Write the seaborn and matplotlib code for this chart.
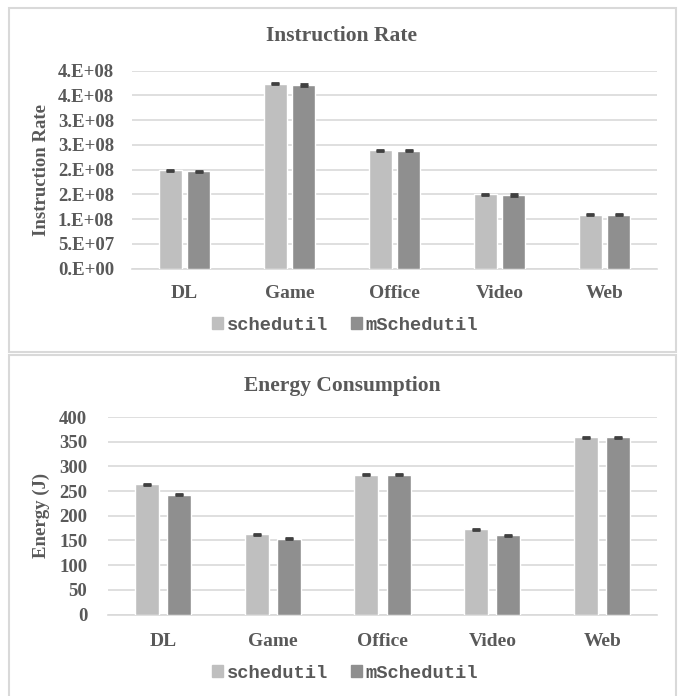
import numpy as np
import pandas as pd
import matplotlib
matplotlib.use("Agg")
import matplotlib.pyplot as plt
from matplotlib.patches import Rectangle, Patch
import seaborn as sns

# workloads and governors
categories = ["DL", "Game", "Office", "Video", "Web"]
governors = ["schedutil", "mSchedutil"]

# instruction rate (instructions / s)
ir_schedutil = [1.99e8, 3.74e8, 2.39e8, 1.50e8, 1.09e8]
ir_mschedutil = [1.965e8, 3.71e8, 2.385e8, 1.485e8, 1.09e8]
ir_err = [1.2e6, 1.2e6, 1.2e6, 1.2e6, 1.2e6]
ir_ticks = [0, 5e7, 1e8, 1.5e8, 2e8, 2.5e8, 3e8, 3.5e8, 4e8]
ir_ticklabels = ["0.E+00", "5.E+07", "1.E+08", "2.E+08", "2.E+08",
                 "3.E+08", "3.E+08", "4.E+08", "4.E+08"]

# energy (J)
en_schedutil = [264, 163, 283, 173, 359]
en_mschedutil = [243, 153, 283, 161, 359]
en_err = [1.0, 1.0, 1.0, 1.0, 1.0]
en_ticks = [0, 50, 100, 150, 200, 250, 300, 350, 400]

TXT = "#595959"
GRID = "#D9D9D9"
palette = {"schedutil": "#BFBFBF", "mSchedutil": "#8F8F8F"}

sns.set_theme(style="white")
plt.rcParams["font.family"] = ["Liberation Serif", "DejaVu Serif"]


def long_df(a, b):
    return pd.DataFrame({
        "workload": categories * 2,
        "governor": [governors[0]] * len(categories) + [governors[1]] * len(categories),
        "value": list(a) + list(b),
    })


def draw_panel(ax, a, b, err, width, gap, ticks, ticklabels, ylabel, ylab_x, ypad, xpad):
    df = long_df(a, b)
    sns.barplot(data=df, x="workload", y="value", hue="governor", order=categories,
                hue_order=governors, palette=palette, width=width, gap=gap,
                errorbar=None, saturation=1, ax=ax, legend=False, zorder=3)
    errs = list(err) + list(err)
    for p, e in zip(ax.patches, errs):
        cx = p.get_x() + p.get_width() / 2
        ax.errorbar(cx, p.get_height(), yerr=e, color="#404040", capsize=3,
                    capthick=2, elinewidth=1, zorder=4)
    ax.set_xlim(-0.5, 4.5)
    ax.set_ylim(ticks[0], ticks[-1])
    ax.set_yticks(ticks)
    ax.set_yticklabels(ticklabels)
    ax.grid(axis="y", color=GRID, lw=1.2, zorder=0)
    for s in ["top", "right", "left"]:
        ax.spines[s].set_visible(False)
    ax.spines["bottom"].set_color(GRID)
    ax.spines["bottom"].set_linewidth(1.2)
    ax.tick_params(axis="y", length=0, pad=ypad, labelsize=13.5, labelcolor=TXT)
    ax.tick_params(axis="x", length=0, pad=xpad, labelsize=14, labelcolor=TXT)
    for t in ax.get_xticklabels() + ax.get_yticklabels():
        t.set_fontweight("bold")
    ax.set_xlabel("")
    ax.set_ylabel(ylabel, fontsize=13.5, fontweight="bold", color=TXT)
    ax.yaxis.set_label_coords(ylab_x, 0.5)


fig = plt.figure(figsize=(6.84, 6.96), dpi=100)

# panel frames
fig.patches.append(Rectangle((9 / 684, 1 - 352 / 696), 667 / 684, 344 / 696,
                             transform=fig.transFigure, fill=False, ec=GRID, lw=1.5))
fig.patches.append(Rectangle((9 / 684, -0.01), 667 / 684, 1 - 355 / 696 + 0.01,
                             transform=fig.transFigure, fill=False, ec=GRID, lw=1.5))

ax1 = fig.add_axes([132 / 684, 1 - 268.5 / 696, 525 / 684, 197.8 / 696])
draw_panel(ax1, ir_schedutil, ir_mschedutil, ir_err, 0.536, 0.18,
           ir_ticks, ir_ticklabels, "Instruction Rate", -0.156, 13, 12)

ax2 = fig.add_axes([108 / 684, 1 - 614.5 / 696, 549 / 684, 197.5 / 696])
draw_panel(ax2, en_schedutil, en_mschedutil, en_err, 0.584, 0.25,
           en_ticks, [str(t) for t in en_ticks], "Energy (J)", -0.106, 15, 13)

fig.text(342 / 684, 1 - 36 / 696, "Instruction Rate", ha="center", va="center",
         fontsize=15.5, fontweight="bold", color=TXT)
fig.text(342 / 684, 1 - 386 / 696, "Energy Consumption", ha="center", va="center",
         fontsize=15.5, fontweight="bold", color=TXT)

handles = [Patch(color=palette[g]) for g in governors]
for ycen in [1 - 325 / 696, 1 - 673 / 696]:
    leg = fig.legend(handles, governors, loc="center", bbox_to_anchor=(345 / 684, ycen),
                     ncol=2, frameon=False, handlelength=0.6, handleheight=0.6,
                     handletextpad=0.2, columnspacing=1.2,
                     prop={"family": "Liberation Mono", "weight": "bold", "size": 13.5})
    for t in leg.get_texts():
        t.set_color(TXT)

fig.savefig("out.png", dpi=100)
